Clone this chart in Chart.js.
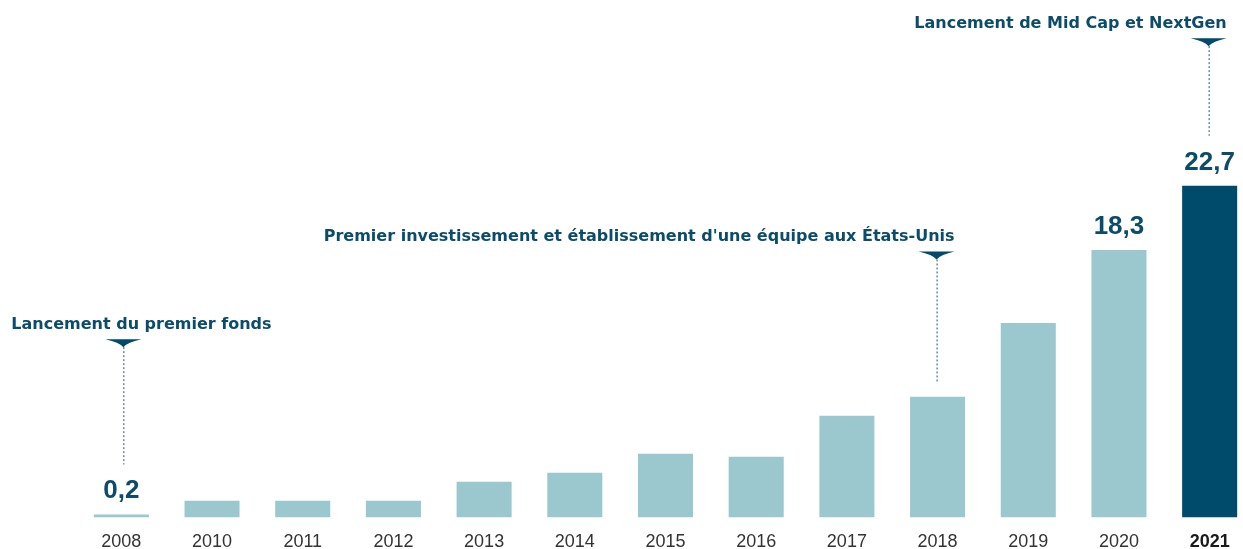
<!DOCTYPE html>
<html lang="fr">
<head>
<meta charset="utf-8">
<script src="https://cdn.jsdelivr.net/npm/chart.js@4.4.1/dist/chart.umd.min.js"></script>
<style>
    html, body { margin: 0; padding: 0; background: #fff; overflow: hidden; }
    #wrap { position: absolute; left: 0; top: 0; width: 1300px; height: 558px; }
</style>
</head>
<body>
<div id="wrap"><canvas id="chart"></canvas></div>
<script>
// Données du graphique
const years = ['2008', '2010', '2011', '2012', '2013', '2014', '2015', '2016', '2017', '2018', '2019', '2020', '2021'];
const values = [0.2, 1.14, 1.14, 1.14, 2.44, 3.06, 4.36, 4.15, 6.96, 8.26, 13.3, 18.3, 22.7];
const labelledYears = ['2008', '2020', '2021'];

// Jalons (texte + niveau du repère sur l'axe des valeurs)
const milestoneYears = ['2008', '2018', '2021'];
const milestoneTexts = [
    'Lancement du premier fonds',
    "Premier investissement et établissement d'une équipe aux États-Unis",
    'Lancement de Mid Cap et NextGen'
];
const milestoneLevels = [12.2, 18.2, 32.8];

const LIGHT = '#9bc8cf';
const DARK = '#004b6b';
const TEXT_DARK = '#0c4c6b';
const lastIndex = years.length - 1;

// Étiquettes de valeur + jalons dessinés par-dessus les barres
const annotationsPlugin = {
    id: 'annotations',
    afterDatasetsDraw(chart) {
        const ctx = chart.ctx;
        const meta = chart.getDatasetMeta(0);
        const y = chart.scales.y;
        const labelTops = {};

        ctx.save();
        ctx.fillStyle = TEXT_DARK;
        ctx.font = 'bold 26px "Liberation Sans", Arial, sans-serif';
        ctx.textAlign = 'center';
        ctx.textBaseline = 'alphabetic';
        labelledYears.forEach(yr => {
            const i = years.indexOf(yr);
            const bar = meta.data[i];
            const base = bar.y - 16;
            ctx.fillText(values[i].toFixed(1).replace('.', ','), bar.x, base);
            labelTops[i] = base - 19;
        });

        milestoneYears.forEach((yr, k) => {
            const i = years.indexOf(yr);
            const bar = meta.data[i];
            const cx = bar.x + (k === 0 ? 2 : -1);
            const top = y.getPixelForValue(milestoneLevels[k]);

            // triangle
            ctx.fillStyle = DARK;
            ctx.beginPath();
            ctx.moveTo(cx - 18, top);
            ctx.lineTo(cx + 18, top);
            ctx.quadraticCurveTo(cx + 4, top + 3, cx, top + 8);
            ctx.quadraticCurveTo(cx - 4, top + 3, cx - 18, top);
            ctx.fill();

            // ligne pointillée
            const end = (labelTops[i] !== undefined ? labelTops[i] : bar.y) - 15;
            ctx.strokeStyle = '#24566f';
            ctx.lineWidth = 1;
            ctx.setLineDash([2, 2]);
            ctx.beginPath();
            ctx.moveTo(cx + 0.5, top + 8);
            ctx.lineTo(cx + 0.5, end);
            ctx.stroke();
            ctx.setLineDash([]);

            // texte
            ctx.fillStyle = TEXT_DARK;
            ctx.font = 'bold 16px "DejaVu Sans", sans-serif';
            ctx.textBaseline = 'alphabetic';
            if (k === 0) {
                ctx.textAlign = 'left';
                ctx.fillText(milestoneTexts[k], cx - 112, top - 10);
            } else {
                ctx.textAlign = 'right';
                ctx.fillText(milestoneTexts[k], cx + 18, top - 10);
            }
        });
        ctx.restore();
    }
};

new Chart(document.getElementById('chart'), {
    type: 'bar',
    data: {
        labels: years,
        datasets: [{
            data: values,
            backgroundColor: years.map((_, i) => i === lastIndex ? DARK : LIGHT),
            borderWidth: 0,
            barPercentage: 0.607,
            categoryPercentage: 1
        }]
    },
    options: {
        responsive: true,
        maintainAspectRatio: false,
        animation: false,
        layout: { padding: { left: 76, right: 45, top: 6, bottom: 0 } },
        plugins: {
            legend: { display: false },
            tooltip: { enabled: false }
        },
        scales: {
            x: {
                grid: { display: false },
                border: { display: false },
                ticks: {
                    padding: 5.5,
                    color: ctx => ctx.index === lastIndex ? '#1a1a1a' : '#333333',
                    font: ctx => ({
                        family: '"Liberation Sans", Arial, sans-serif',
                        size: 18,
                        weight: ctx.index === lastIndex ? 'bold' : 'normal'
                    })
                }
            },
            y: {
                display: false,
                min: 0,
                max: 35
            }
        }
    },
    plugins: [annotationsPlugin]
});
</script>
</body>
</html>
